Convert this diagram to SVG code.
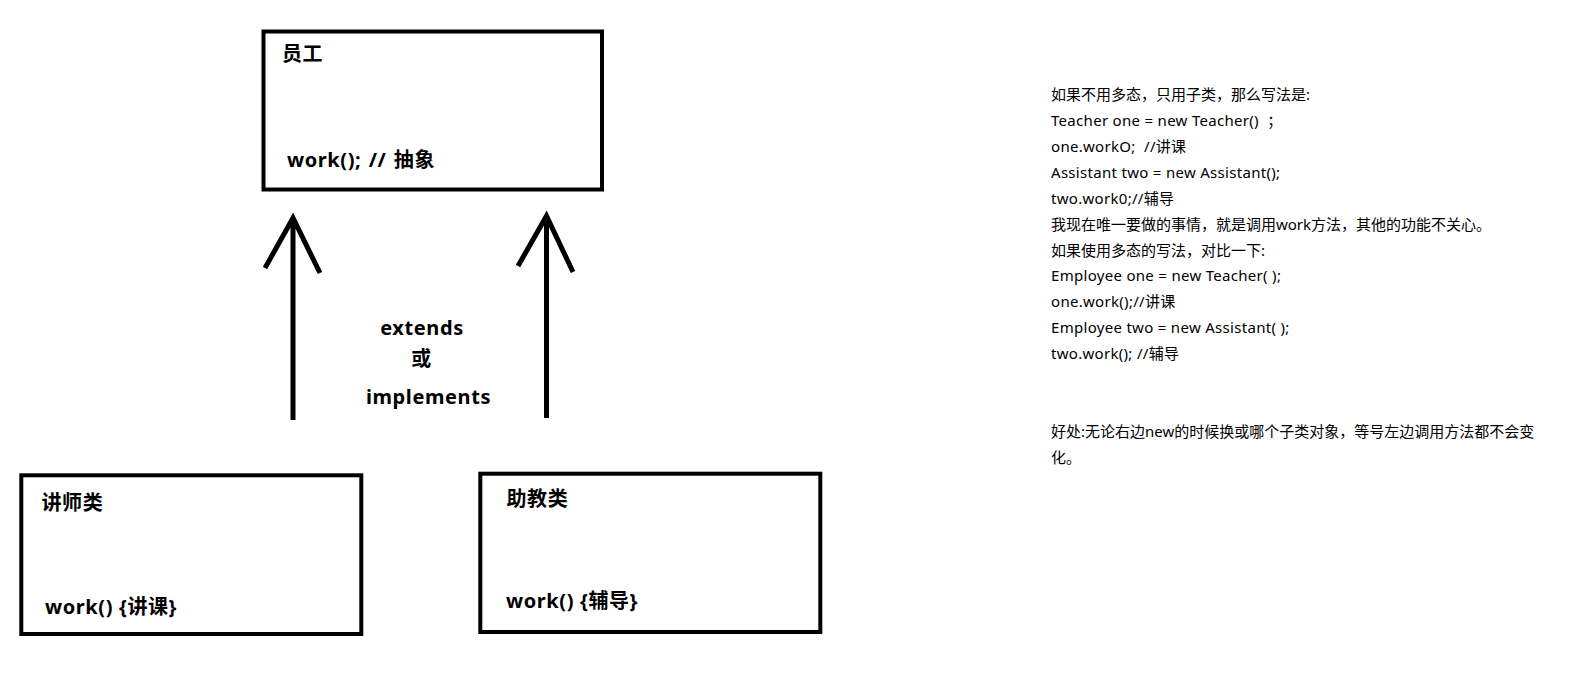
<svg xmlns="http://www.w3.org/2000/svg" width="1587" height="674" viewBox="0 0 1587 674">
<style>
.box{fill:#fff;stroke:#000;stroke-width:4}
.arr{fill:none;stroke:#000;stroke-width:5;stroke-linecap:butt;stroke-linejoin:miter}
.lbl{font-family:"Noto Sans","Noto Sans CJK SC",sans-serif;font-weight:bold;font-size:20px;fill:#000;letter-spacing:0.6px;white-space:pre}
.note{font-family:"Noto Sans","Noto Sans CJK SC",sans-serif;font-size:15px;fill:#000;white-space:pre}
.lat{letter-spacing:0.3px}
</style>
<rect width="1587" height="674" fill="#fff"/>
<g id="connectors">
<path class="arr" d="M293 420 V218 M265 268 L293 218 L320 273"/>
<path class="arr" d="M546.5 418 V216 M518 266 L546.5 216 L573 272"/>
<text class="lbl" x="422" y="335" text-anchor="middle">extends</text>
<text class="lbl" x="421.5" y="366" text-anchor="middle">或</text>
<text class="lbl" x="428.5" y="404" text-anchor="middle">implements</text>
</g>
<g id="employee">
<rect class="box" x="263.5" y="31.5" width="338.5" height="158"/>
<text class="lbl" x="282" y="61">员工</text>
<text class="lbl" x="287" y="167" style="word-spacing:1.5px">work(); // 抽象</text>
</g>
<g id="teacher">
<rect class="box" x="21.3" y="475.3" width="340" height="158.7"/>
<text class="lbl" x="41.5" y="509.5">讲师类</text>
<text class="lbl" x="45" y="614">work() {讲课}</text>
</g>
<g id="assistant">
<rect class="box" x="480.3" y="473.7" width="340" height="158.3"/>
<text class="lbl" x="506.5" y="505.5">助教类</text>
<text class="lbl" x="506" y="608">work() {辅导}</text>
</g>
<g id="notes">
<text class="note" x="1051" y="99.8">如果不用多态，只用子类，那么写法是:</text>
<text class="note lat" x="1051" y="125.8">Teacher one = new Teacher()  ；</text>
<text class="note lat" x="1051" y="151.7">one.workO;  //讲课</text>
<text class="note lat" x="1051" y="177.6">Assistant two = new Assistant();</text>
<text class="note lat" x="1051" y="203.6">two.work0;//辅导</text>
<text class="note" x="1051" y="229.5">我现在唯一要做的事情，就是调用work方法，其他的功能不关心。</text>
<text class="note" x="1051" y="255.5">如果使用多态的写法，对比一下:</text>
<text class="note lat" x="1051" y="281.4">Employee one = new Teacher( );</text>
<text class="note lat" x="1051" y="307.4">one.work();//讲课</text>
<text class="note lat" x="1051" y="333.3">Employee two = new Assistant( );</text>
<text class="note lat" x="1051" y="359.3">two.work(); //辅导</text>
<text class="note" x="1051" y="437">好处:无论右边new的时候换或哪个子类对象，等号左边调用方法都不会变</text>
<text class="note" x="1051" y="463">化。</text>
</g>
</svg>
